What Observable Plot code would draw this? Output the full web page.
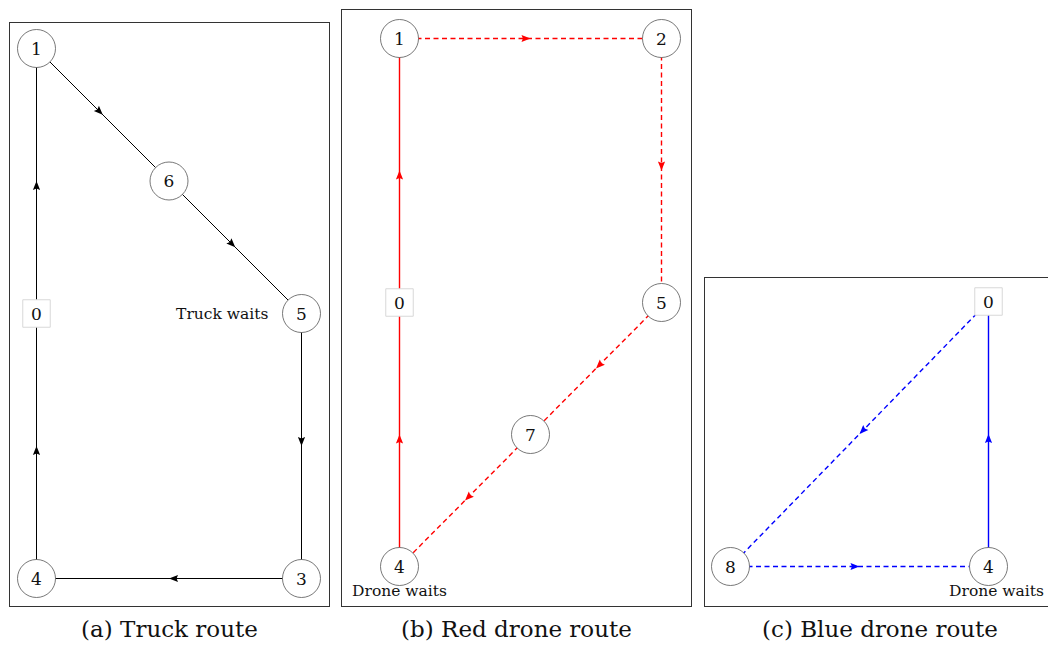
<!DOCTYPE html>
<html>
<head>
<meta charset="utf-8">
<script src="https://cdn.jsdelivr.net/npm/d3@7"></script>
<script src="https://cdn.jsdelivr.net/npm/@observablehq/plot@0.6"></script>
<style>
  html, body { margin: 0; padding: 0; background: #fff; overflow: hidden; }
  #root { position: relative; width: 1048px; height: 647px; overflow: hidden; }
  .panel { position: absolute; }
  .caption { position: absolute; font-family: "DejaVu Serif", serif; font-size: 23px; line-height: 23px; color: #111; white-space: nowrap; transform: translateX(-50%); }
</style>
</head>
<body>
<div id="root"></div>
<script>
// ---------- data ----------
// (a) truck route: node ids, grid positions, visiting order
const truckIds = ["1", "6", "5", "3", "4", "0"];
const truckX = [0, 1, 2, 2, 0, 0];
const truckY = [4, 3, 2, 0, 0, 2];
const truckRoute = ["1", "6", "5", "3", "4", "0", "1"];
const truckDashed = [false, false, false, false, false, false];
const truckWait = {node: "5", text: "Truck waits"};

// (b) red drone route
const redIds = ["1", "2", "5", "7", "4", "0"];
const redX = [0, 2, 2, 1, 0, 0];
const redY = [4, 4, 2, 1, 0, 2];
const redRoute = ["1", "2", "5", "7", "4", "0", "1"];
const redDashed = [true, true, true, true, false, false];
const redWait = {node: "4", text: "Drone waits"};

// (c) blue drone route
const blueIds = ["0", "8", "4"];
const blueX = [2, 0, 2];
const blueY = [2, 0, 0];
const blueRoute = ["0", "8", "4", "0"];
const blueDashed = [true, true, false];
const blueWait = {node: "4", text: "Drone waits"};

const captions = ["(a) Truck route", "(b) Red drone route", "(c) Blue drone route"];
const depotId = "0";

// ---------- layout ----------
const FONT = "DejaVu Serif";
const arrowHead = {
  draw(ctx) {
    ctx.moveTo(0, 0);
    ctx.lineTo(3.6, 9);
    ctx.lineTo(0, 7.6);
    ctx.lineTo(-3.6, 9);
    ctx.closePath();
  }
};

function buildPanel(cfg) {
  const nodes = cfg.ids.map((id, i) => ({id, x: cfg.xs[i], y: cfg.ys[i]}));
  const byId = new Map(nodes.map(n => [n.id, n]));
  const sx = (cfg.width - cfg.ml - cfg.mr) / (cfg.xDomain[1] - cfg.xDomain[0]);
  const sy = (cfg.height - cfg.mt - cfg.mb) / (cfg.yDomain[1] - cfg.yDomain[0]);
  const edges = d3.pairs(cfg.route).map(([a, b], i) => {
    const p = byId.get(a), q = byId.get(b);
    return {
      x1: p.x, y1: p.y, x2: q.x, y2: q.y,
      mx: (p.x + q.x) / 2, my: (p.y + q.y) / 2,
      angle: Math.atan2((q.x - p.x) * sx, (q.y - p.y) * sy) * 180 / Math.PI,
      dashed: cfg.dashed[i]
    };
  });
  const circles = nodes.filter(n => n.id !== depotId);
  const depots = nodes.filter(n => n.id === depotId);
  const wait = [{...byId.get(cfg.wait.node), text: cfg.wait.text}];

  const svg = Plot.plot({
    width: cfg.width,
    height: cfg.height,
    marginLeft: cfg.ml, marginRight: cfg.mr, marginTop: cfg.mt, marginBottom: cfg.mb,
    x: {domain: cfg.xDomain, axis: null},
    y: {domain: cfg.yDomain, axis: null},
    style: {background: "transparent", fontFamily: FONT, overflow: "visible"},
    marks: [
      Plot.link(edges.filter(e => !e.dashed), {x1: "x1", y1: "y1", x2: "x2", y2: "y2", stroke: cfg.color, strokeWidth: cfg.lw}),
      Plot.link(edges.filter(e => e.dashed), {x1: "x1", y1: "y1", x2: "x2", y2: "y2", stroke: cfg.color, strokeWidth: cfg.lw, strokeDasharray: "5,3.5"}),
      Plot.dot(edges, {x: "mx", y: "my", symbol: arrowHead, rotate: "angle", fill: cfg.color, stroke: "none"}),
      Plot.dot(circles, {x: "x", y: "y", r: 19, fill: "white", stroke: "#555", strokeWidth: 0.8}),
      Plot.dot(depots, {x: "x", y: "y", symbol: "square", r: 15.5, fill: "white", stroke: "#d8d8d8", strokeWidth: 1}),
      Plot.text(nodes, {x: "x", y: "y", text: "id", fontSize: 17, fill: "#111", dy: 1}),
      Plot.text(wait, {x: "x", y: "y", text: "text", fontSize: 15.5, fill: "#111", ...cfg.waitPos})
    ]
  });
  svg.classList.add("panel");
  svg.style.left = cfg.left + "px";
  svg.style.top = cfg.top + "px";
  svg.style.outline = "1px solid #333";
  svg.style.outlineOffset = "-1px";
  return svg;
}

const root = document.getElementById("root");
const panels = [
  {ids: truckIds, xs: truckX, ys: truckY, route: truckRoute, dashed: truckDashed, wait: truckWait, color: "#000", lw: 1,
   left: 9, top: 22, width: 321, height: 585, ml: 27, mr: 29, mt: 26, mb: 29, xDomain: [0, 2], yDomain: [0, 4],
   waitPos: {textAnchor: "end", dx: -33, dy: 1}},
  {ids: redIds, xs: redX, ys: redY, route: redRoute, dashed: redDashed, wait: redWait, color: "#ff0000", lw: 1.4,
   left: 341, top: 9, width: 351, height: 598, ml: 58, mr: 31, mt: 29, mb: 41, xDomain: [0, 2], yDomain: [0, 4],
   waitPos: {textAnchor: "middle", dx: 0, dy: 25}},
  {ids: blueIds, xs: blueX, ys: blueY, route: blueRoute, dashed: blueDashed, wait: blueWait, color: "#0000ff", lw: 1.4,
   left: 704, top: 277, width: 352, height: 330, ml: 26, mr: 68, mt: 24, mb: 41, xDomain: [0, 2], yDomain: [0, 2],
   waitPos: {textAnchor: "middle", dx: 8, dy: 25}}
];
const captionCenters = [169.5, 516.5, 880];
panels.forEach((cfg, i) => {
  root.appendChild(buildPanel(cfg));
  const cap = document.createElement("div");
  cap.className = "caption";
  cap.textContent = captions[i];
  cap.style.left = captionCenters[i] + "px";
  cap.style.top = "618px";
  root.appendChild(cap);
});
</script>
</body>
</html>
